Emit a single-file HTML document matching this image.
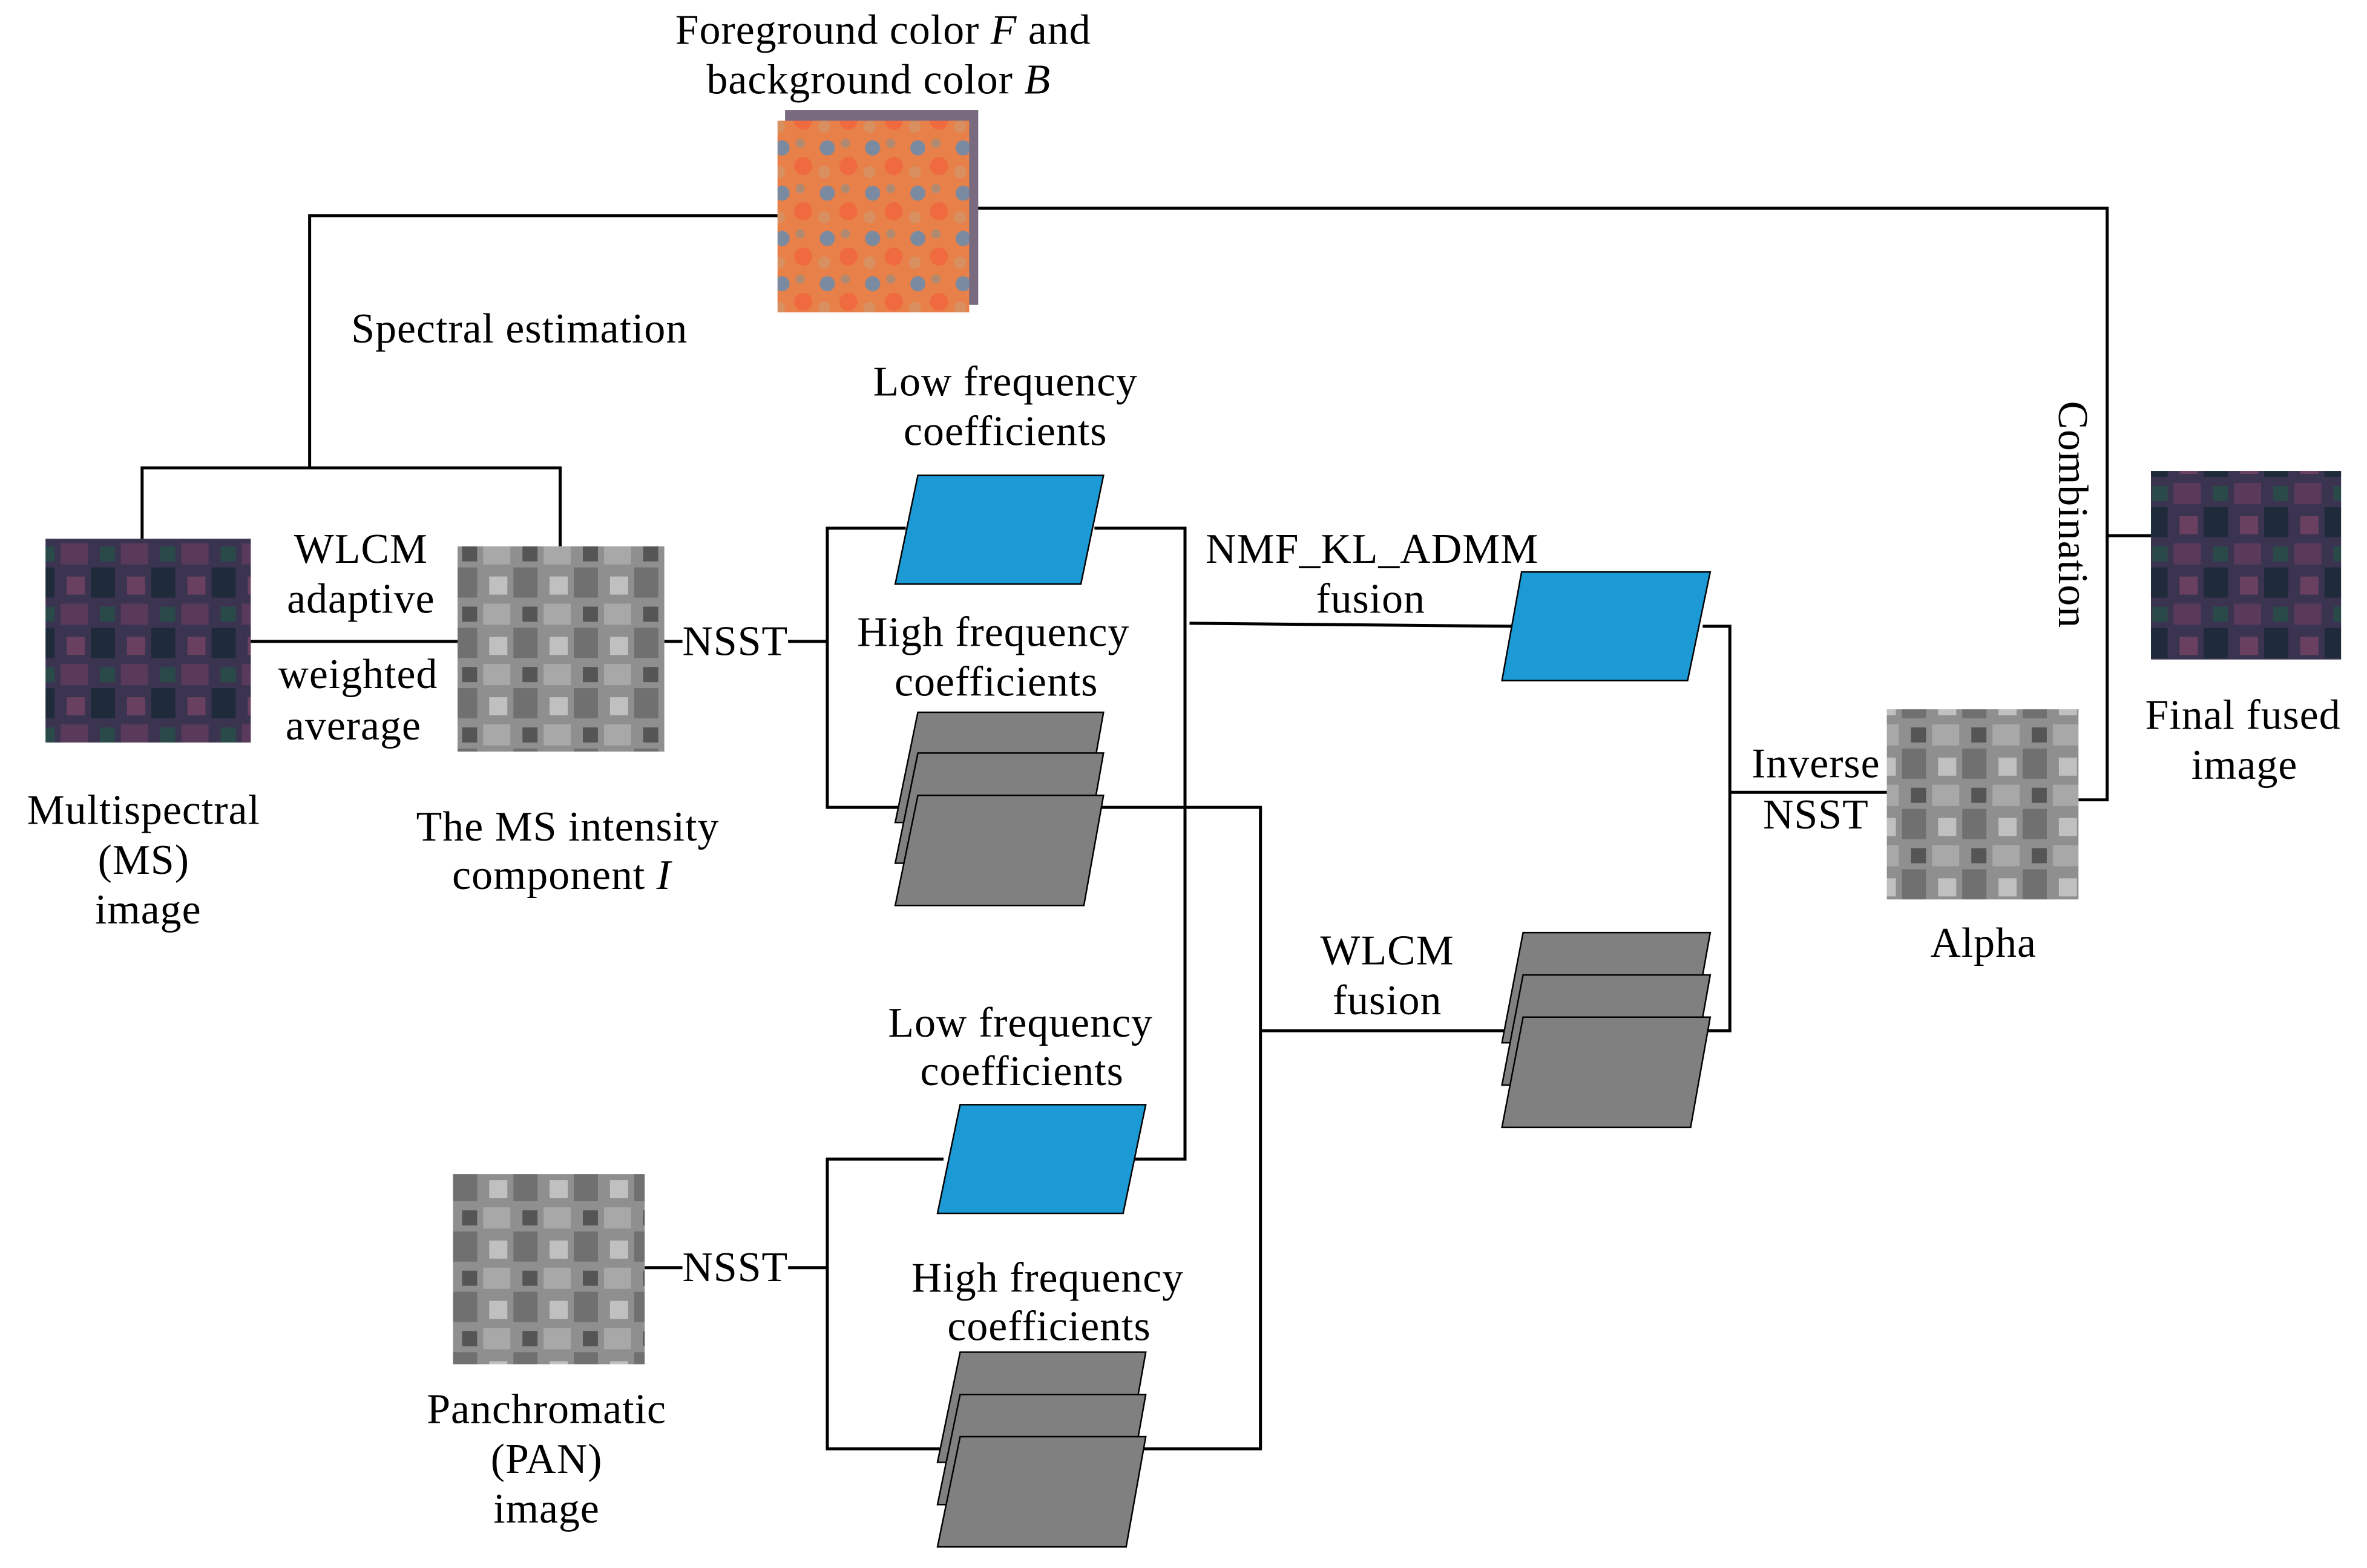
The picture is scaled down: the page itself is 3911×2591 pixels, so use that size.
<!DOCTYPE html>
<html><head><meta charset="utf-8"><style>
html,body{margin:0;padding:0;background:#fff}
svg{display:block}
text{font-family:"Liberation Serif",serif;font-size:28px;letter-spacing:0.4px;fill:#000}
</style></head><body>
<svg width="3911" height="2591" viewBox="0 0 1568 1039" xmlns="http://www.w3.org/2000/svg">
<defs>
<pattern id="ms" width="40" height="40" patternUnits="userSpaceOnUse">
<rect width="40" height="40" fill="#3a3450"/><rect x="0" y="0" width="18" height="14" fill="#5a3a5a"/><rect x="20" y="16" width="16" height="20" fill="#1f2a3a"/><rect x="4" y="22" width="12" height="12" fill="#6a4060"/><rect x="26" y="2" width="10" height="10" fill="#2a4a4a"/>
</pattern>
<pattern id="gr" width="40" height="40" patternUnits="userSpaceOnUse">
<rect width="40" height="40" fill="#8f8f8f"/><rect x="0" y="0" width="18" height="14" fill="#a8a8a8"/><rect x="20" y="16" width="16" height="20" fill="#707070"/><rect x="4" y="22" width="12" height="12" fill="#c0c0c0"/><rect x="26" y="2" width="10" height="10" fill="#555"/>
</pattern>
<pattern id="fg" width="30" height="30" patternUnits="userSpaceOnUse">
<rect width="30" height="30" fill="#e8804a"/><circle cx="8" cy="8" r="5" fill="#7a8aa0"/><circle cx="22" cy="20" r="6" fill="#f06a40"/><circle cx="20" cy="5" r="3" fill="#b08a70"/><circle cx="6" cy="24" r="4" fill="#d89060"/>
</pattern>
</defs>
<g stroke="#000" stroke-width="2" fill="none">
<polyline points="94,357 94,310 371,310 371,362"/>
<polyline points="205,310 205,143 515,143"/>
<polyline points="642,138 1396,138 1396,530 1377,530"/>
<line x1="1396" y1="355" x2="1425" y2="355"/>
<line x1="166" y1="425" x2="303" y2="425"/>
<line x1="440" y1="425" x2="452" y2="425"/>
<line x1="522" y1="425" x2="548" y2="425"/>
<polyline points="600,350 548,350 548,535 600,535"/>
<polyline points="725,350 785,350 785,768 750,768"/>
<polyline points="788,413 1003,415"/>
<polyline points="1128,415 1146,415 1146,683 1125,683"/>
<line x1="1146" y1="525" x2="1250" y2="525"/>
<polyline points="725,535 835,535 835,960 750,960"/>
<line x1="835" y1="683" x2="1000" y2="683"/>
<line x1="427" y1="840" x2="452" y2="840"/>
<line x1="522" y1="840" x2="548" y2="840"/>
<polyline points="625,768 548,768 548,960 625,960"/>
</g>
<rect x="30" y="357" width="136" height="135" fill="url(#ms)"/>
<rect x="303" y="362" width="137" height="136" fill="url(#gr)"/>
<rect x="520" y="73" width="128" height="129" fill="#7a6a80"/>
<rect x="515" y="80" width="127" height="127" fill="url(#fg)"/>
<rect x="1425" y="312" width="126" height="125" fill="url(#ms)"/>
<rect x="1250" y="470" width="127" height="126" fill="url(#gr)"/>
<rect x="300" y="778" width="127" height="126" fill="url(#gr)"/>
<g stroke="#000" stroke-width="1" fill="#1b9ad6">
<polygon points="608,315 731,315 716,387 593,387"/>
<polygon points="1008,379 1133,379 1118,451 995,451"/>
<polygon points="636,732 759,732 744,804 621,804"/>
</g>
<g stroke="#000" stroke-width="1" fill="#808080">
<polygon points="608,472 731,472 718,545 593,545"/>
<polygon points="608,499 731,499 718,572 593,572"/>
<polygon points="608,527 731,527 718,600 593,600"/>
<polygon points="1009,618 1133,618 1120,691 995,691"/>
<polygon points="1009,646 1133,646 1120,719 995,719"/>
<polygon points="1009,674 1133,674 1120,747 995,747"/>
<polygon points="636,896 759,896 746,969 621,969"/>
<polygon points="636,924 759,924 746,997 621,997"/>
<polygon points="636,952 759,952 746,1025 621,1025"/>
</g>
<g text-anchor="middle">
<text x="585" y="29">Foreground color <tspan font-style="italic">F</tspan> and</text>
<text x="582" y="62">background color <tspan font-style="italic">B</tspan></text>
<text x="344" y="227">Spectral estimation</text>
<text x="666" y="262">Low frequency</text>
<text x="666" y="295">coefficients</text>
<text x="239" y="373">WLCM</text>
<text x="239" y="406">adaptive</text>
<text x="237" y="456">weighted</text>
<text x="234" y="490">average</text>
<text x="487" y="434">NSST</text>
<text x="658" y="428">High frequency</text>
<text x="660" y="461">coefficients</text>
<text x="909" y="373">NMF_KL_ADMM</text>
<text x="908" y="406">fusion</text>
<text x="95" y="546">Multispectral</text>
<text x="95" y="579">(MS)</text>
<text x="98" y="612">image</text>
<text x="376" y="557">The MS intensity</text>
<text x="372" y="589">component <tspan font-style="italic">I</tspan></text>
<text x="1203" y="515">Inverse</text>
<text x="1203" y="549">NSST</text>
<text x="1314" y="634">Alpha</text>
<text x="1486" y="483">Final fused</text>
<text x="1487" y="516">image</text>
<text x="919" y="639">WLCM</text>
<text x="919" y="672">fusion</text>
<text x="676" y="687">Low frequency</text>
<text x="677" y="719">coefficients</text>
<text x="487" y="849">NSST</text>
<text x="694" y="856">High frequency</text>
<text x="695" y="888">coefficients</text>
<text x="362" y="943">Panchromatic</text>
<text x="362" y="976">(PAN)</text>
<text x="362" y="1009">image</text>
<text x="0" y="0" transform="translate(1364,341) rotate(90)">Combination</text>
</g>
</svg>
</body></html>
